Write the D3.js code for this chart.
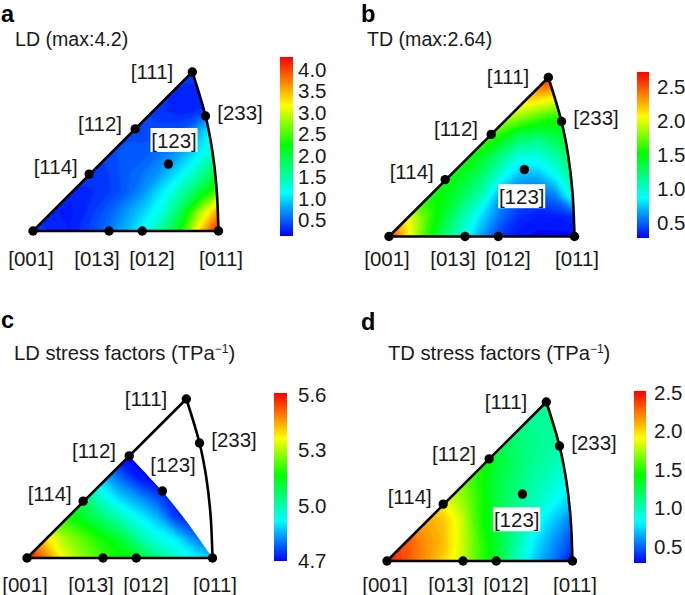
<!DOCTYPE html>
<html>
<head>
<meta charset="utf-8">
<script src="https://cdn.jsdelivr.net/npm/d3@7"></script>
<style>
body { margin: 0; background: #fff; }
svg { display: block; }
text { font-family: "Liberation Sans", Arial, sans-serif; fill: #1a1a1a; }
</style>
</head>
<body>
<svg width="685" height="595"></svg>
<script>
// directions, u = along [001]-[011], v = up towards [111]
var dirNames = ["[001]", "[013]", "[012]", "[011]", "[114]", "[112]", "[111]", "[233]", "[123]"];
var dirU = [0, 0.41, 0.589, 1, 0.303, 0.551, 0.859, 0.93, 0.73];
var dirV = [0, 0, 0, 0, 0.358, 0.642, 1, 0.723, 0.421];

// right hand arc [011] -> [233] -> [111]
var arcU = [1, 0.989, 0.966, 0.93, 0.859];
var arcV = [0, 0.279, 0.509, 0.723, 1];

// lower edge of the data in panel c, [112] -> [123] -> [011]
var edgeCU = [0.551, 0.728, 0.861, 0.987, 1];
var edgeCV = [0.642, 0.421, 0.228, 0.022, 0];

// grid: 11 columns (u=0..1), 9 rows (v=0..1)
var gridU = d3.range(11).map(function (i) { return i / 10; });
var gridV = d3.range(9).map(function (i) { return i / 8; });

var valuesLD = [
  0.45, 0.30, 0.27, 0.42, 0.60, 0.88, 1.22, 1.65, 2.35, 3.40, 4.30,
  0.32, 0.28, 0.25, 0.35, 0.52, 0.75, 1.00, 1.33, 1.95, 2.85, 3.65,
  0.32, 0.30, 0.30, 0.32, 0.38, 0.52, 0.75, 1.10, 1.52, 2.00, 2.60,
  0.40, 0.40, 0.40, 0.40, 0.40, 0.52, 0.62, 0.80, 1.10, 1.52, 2.05,
  0.40, 0.40, 0.40, 0.40, 0.45, 0.50, 0.50, 0.62, 0.80, 1.10, 1.52,
  0.40, 0.40, 0.40, 0.40, 0.45, 0.45, 0.45, 0.45, 0.50, 0.90, 1.35,
  0.40, 0.40, 0.40, 0.40, 0.40, 0.40, 0.40, 0.35, 0.30, 0.35, 0.80,
  0.40, 0.40, 0.40, 0.40, 0.40, 0.40, 0.40, 0.35, 0.30, 0.30, 0.40,
  0.40, 0.40, 0.40, 0.40, 0.40, 0.40, 0.40, 0.40, 0.40, 0.40, 0.40
];
var valuesTD = [
  2.65, 2.15, 1.62, 1.25, 0.95, 0.65, 0.42, 0.33, 0.30, 0.30, 0.30,
  2.35, 2.08, 1.72, 1.40, 1.10, 0.80, 0.55, 0.40, 0.35, 0.35, 0.40,
  1.70, 1.70, 1.60, 1.50, 1.30, 1.05, 0.65, 0.50, 0.48, 0.58, 1.00,
  1.60, 1.60, 1.60, 1.50, 1.45, 1.25, 0.95, 0.72, 0.70, 0.88, 1.20,
  1.60, 1.60, 1.60, 1.60, 1.55, 1.45, 1.20, 0.95, 0.95, 1.10, 1.35,
  1.75, 1.75, 1.75, 1.75, 1.75, 1.75, 1.55, 1.30, 1.25, 1.35, 1.50,
  1.95, 1.95, 1.95, 1.95, 1.95, 1.95, 1.95, 1.85, 1.70, 1.60, 1.60,
  2.25, 2.25, 2.25, 2.25, 2.25, 2.25, 2.25, 2.25, 2.20, 2.10, 2.00,
  2.60, 2.60, 2.60, 2.60, 2.60, 2.60, 2.60, 2.60, 2.65, 2.70, 2.70
];
var valuesLDs = [
  5.62, 5.50, 5.36, 5.28, 5.22, 5.18, 5.14, 5.05, 4.98, 4.93, 4.88,
  5.50, 5.40, 5.30, 5.24, 5.18, 5.12, 5.02, 4.95, 4.91, 4.82, 4.76,
  5.30, 5.25, 5.20, 5.14, 5.07, 5.00, 4.93, 4.87, 4.76, 4.72, 4.70,
  5.20, 5.20, 5.15, 5.08, 4.97, 4.89, 4.84, 4.78, 4.72, 4.70, 4.70,
  5.00, 5.00, 5.00, 5.00, 4.88, 4.80, 4.73, 4.70, 4.70, 4.70, 4.70,
  4.80, 4.80, 4.80, 4.80, 4.80, 4.72, 4.70, 4.70, 4.70, 4.70, 4.70,
  4.70, 4.70, 4.70, 4.70, 4.70, 4.70, 4.70, 4.70, 4.70, 4.70, 4.70,
  4.70, 4.70, 4.70, 4.70, 4.70, 4.70, 4.70, 4.70, 4.70, 4.70, 4.70,
  4.70, 4.70, 4.70, 4.70, 4.70, 4.70, 4.70, 4.70, 4.70, 4.70, 4.70
];
var valuesTDs = [
  2.50, 2.35, 2.20, 2.05, 1.85, 1.55, 1.35, 1.00, 0.72, 0.55, 0.33,
  2.40, 2.35, 2.20, 2.10, 1.85, 1.55, 1.30, 1.05, 0.80, 0.62, 0.45,
  2.20, 2.20, 2.15, 2.08, 1.85, 1.50, 1.30, 1.08, 0.90, 0.72, 0.55,
  2.00, 2.00, 2.00, 1.95, 1.75, 1.50, 1.28, 1.12, 1.00, 0.86, 0.72,
  1.80, 1.80, 1.80, 1.80, 1.70, 1.48, 1.28, 1.16, 1.05, 0.95, 0.85,
  1.60, 1.60, 1.60, 1.60, 1.60, 1.50, 1.32, 1.20, 1.10, 1.03, 0.95,
  1.40, 1.40, 1.40, 1.40, 1.40, 1.40, 1.28, 1.18, 1.12, 1.06, 1.00,
  1.15, 1.15, 1.15, 1.15, 1.15, 1.15, 1.15, 1.12, 1.10, 1.08, 1.05,
  1.08, 1.08, 1.08, 1.08, 1.08, 1.08, 1.08, 1.08, 1.08, 1.08, 1.08
];

var ticksLD = [0.5, 1, 1.5, 2, 2.5, 3, 3.5, 4];
var ticksTD = [0.5, 1, 1.5, 2, 2.5];
var ticksLDs = [4.7, 5, 5.3, 5.6];
var ticksTDs = [0.5, 1, 1.5, 2, 2.5];

var jet = ["#0000ff", "#00ffff", "#00ff00", "#ffff00", "#ff0000"];
var jetStops = [0, 0.24, 0.51, 0.73, 1];

var svg = d3.select("svg");
var defs = svg.append("defs");

var blur = defs.append("filter").attr("id", "soft")
  .attr("x", "-5%").attr("y", "-5%").attr("width", "110%").attr("height", "110%");
blur.append("feGaussianBlur").attr("stdDeviation", 1.2);

var panels = [
  {id: "a", title: "LD (max:4.2)", values: valuesLD, ticks: ticksLD, domain: [0.13, 4.3],
   ox: 33, oy: 231, lx: 1, ly: 21.5, tx: 15, ty: 46, bar: [280, 293, 57, 236], pad: 5, l123: [174, 140], low: 27},
  {id: "b", title: "TD (max:2.64)", values: valuesTD, ticks: ticksTD, domain: [0.275, 2.72],
   ox: 389, oy: 236.5, lx: 361, ly: 21.5, tx: 367, ty: 46, bar: [637, 649, 72, 238], pad: 8, l123: [165.7, 190.7], low: 22},
  {id: "c", title: "LD stress factors (TPa", sup: true, values: valuesLDs, ticks: ticksLDs, domain: [4.7, 5.61],
   ox: 27, oy: 558, lx: 1, ly: 328, tx: 14, ty: 360, bar: [274, 287, 393, 561], pad: 11, l123: [179, 137], low: 26},
  {id: "d", title: "TD stress factors (TPa", sup: true, values: valuesTDs, ticks: ticksTDs, domain: [0.29, 2.52],
   ox: 387, oy: 561, lx: 361, ly: 330, tx: 388, ty: 360, bar: [634, 646, 391, 563], pad: 8, l123: [162.7, 189.3], low: 23}
];

// label centres in panel a's layout
var labelPos = {
  "[001]": [31, 0], "[013]": [97, 0], "[012]": [152, 0], "[011]": [221, 0],
  "[114]": [55.7, 166], "[112]": [100, 123], "[111]": [152, 71], "[233]": [240, 112]
};

panels.forEach(drawPanel);

function drawPanel(p) {
  var x = d3.scaleLinear().domain([0, 1]).range([p.ox, p.ox + 185.5]);
  var y = d3.scaleLinear().domain([0, 1]).range([p.oy, p.oy - 159]);
  var g = svg.append("g");

  var span = p.domain[1] - p.domain[0];
  var color = d3.scaleLinear()
    .domain(jetStops.map(function (s) { return p.domain[0] + s * span; }))
    .range(jet)
    .clamp(true);

  // outline of the stereographic triangle
  var curve = d3.line()
    .x(function (d) { return x(d[0]); })
    .y(function (d) { return y(d[1]); })
    .curve(d3.curveCatmullRom);
  var arcPts = arcU.map(function (u, i) { return [u, arcV[i]]; });
  var start = "M" + x(0) + "," + y(0) + "L";
  var outline = start + curve(arcPts).slice(1) + "Z";

  var clipD = outline;
  if (p.id == "c") {
    var edgePts = edgeCU.map(function (u, i) { return [u, edgeCV[i]]; }).reverse();
    clipD = start + curve(edgePts).slice(1) + "Z";
  }
  defs.append("clipPath").attr("id", "clip-" + p.id).append("path").attr("d", clipD);

  // filled contours from the value grid, cell centres sit at i+0.5
  var thresholds = [p.domain[0] - 1].concat(d3.range(60).map(function (i) {
    return p.domain[0] + i * span / 60;
  }));
  var contours = d3.contours().size([gridU.length, gridV.length]).thresholds(thresholds)(p.values);
  var gx = d3.scaleLinear().domain([0.5, gridU.length - 0.5]).range([x(0), x(1)]);
  var gy = d3.scaleLinear().domain([0.5, gridV.length - 0.5]).range([y(0), y(1)]);
  var path = d3.geoPath(d3.geoTransform({
    point: function (a, b) { this.stream.point(gx(a), gy(b)); }
  }));
  g.append("g")
    .attr("clip-path", "url(#clip-" + p.id + ")")
    .append("g")
    .attr("filter", "url(#soft)")
    .selectAll("path")
    .data(contours)
    .enter()
    .append("path")
    .attr("d", path)
    .attr("fill", function (d) { return color(d.value); })
    .attr("stroke", function (d) { return color(d.value); })
    .attr("stroke-width", 0.4);

  g.append("path")
    .attr("d", outline)
    .attr("fill", "none")
    .attr("stroke", "#000")
    .attr("stroke-width", 2.6)
    .attr("stroke-linejoin", "round");

  g.selectAll("circle")
    .data(dirNames)
    .enter()
    .append("circle")
    .attr("cx", function (d, i) { return x(dirU[i]); })
    .attr("cy", function (d, i) { return y(dirV[i]); })
    .attr("r", 4.7)
    .attr("fill", "#000");

  // direction labels
  dirNames.forEach(function (name) {
    var pos = name == "[123]" ? p.l123 : labelPos[name];
    var lx = pos[0] - 33 + p.ox;
    var ly = pos[1] == 0 ? p.oy + p.low : pos[1] - 231 + p.oy;
    if (name == "[123]") {
      g.append("rect").attr("x", lx - 23.5).attr("y", ly - 12).attr("width", 47).attr("height", 24).attr("fill", "#fff");
    }
    g.append("text")
      .attr("x", lx)
      .attr("y", ly + 7.5)
      .attr("text-anchor", "middle")
      .attr("font-size", 20.5)
      .text(name);
  });

  // titles
  svg.append("text").attr("x", p.lx).attr("y", p.ly)
    .attr("font-size", 23.5).attr("font-weight", "bold").style("fill", "#000").text(p.id);
  var t = svg.append("text").attr("x", p.tx).attr("y", p.ty).attr("font-size", p.sup ? 20.2 : 19.6);
  t.append("tspan").text(p.title);
  if (p.sup) {
    t.append("tspan").attr("dy", -7).attr("font-size", 12).text("\u22121");
    t.append("tspan").attr("dy", 7).text(")");
  }

  // colour bar
  var b = p.bar;
  var barY = d3.scaleLinear().domain(p.domain).range([b[3], b[2]]);
  var gradId = "grad-" + p.id;
  var grad = defs.append("linearGradient").attr("id", gradId)
    .attr("x1", 0).attr("y1", 1).attr("x2", 0).attr("y2", 0);
  grad.selectAll("stop").data(jet).enter().append("stop")
    .attr("offset", function (d, i) { return jetStops[i]; })
    .attr("stop-color", function (d) { return d; });
  svg.append("rect").attr("x", b[0]).attr("y", b[2])
    .attr("width", b[1] - b[0]).attr("height", b[3] - b[2])
    .attr("fill", "url(#" + gradId + ")");
  var ax = svg.append("g")
    .attr("transform", "translate(" + b[1] + ",0)")
    .call(d3.axisRight(barY).tickValues(p.ticks).tickFormat(d3.format(".1f")).tickSize(0).tickPadding(p.pad));
  ax.select(".domain").remove();
  ax.selectAll("text")
    .attr("font-size", 20.5)
    .style("font-family", '"Liberation Sans", Arial, sans-serif')
    .style("font-size", "20.5px");
}
</script>
</body>
</html>
